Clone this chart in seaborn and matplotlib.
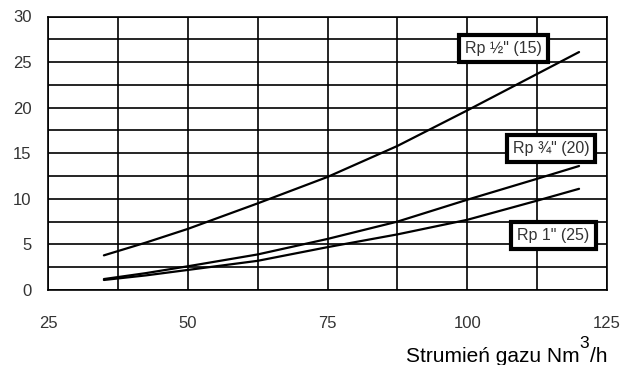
import matplotlib
matplotlib.use("Agg")
import matplotlib.pyplot as plt
from matplotlib.ticker import MultipleLocator
import seaborn as sns
import pandas as pd

# ---- data ----
flow = [35, 42.5, 50, 62.5, 75, 87.5, 100, 112.5, 120]
dp_half = [3.8, 5.2, 6.7, 9.5, 12.4, 15.8, 19.7, 23.7, 26.1]
dp_three_quarter = [1.2, 1.85, 2.6, 3.9, 5.6, 7.5, 9.9, 12.2, 13.6]
dp_one = [1.1, 1.6, 2.2, 3.2, 4.7, 6.1, 7.7, 9.8, 11.1]
series_names = ['Rp ½" (15)', 'Rp ¾" (20)', 'Rp 1" (25)']
label_x = [106.5, 115.0, 115.4]
label_y = [26.5, 15.5, 6.0]
x_ticks = [25, 50, 75, 100, 125]
y_ticks = [0, 5, 10, 15, 20, 25, 30]

rows = []
for name, vals in zip(series_names, [dp_half, dp_three_quarter, dp_one]):
    for q, v in zip(flow, vals):
        rows.append({"Q": q, "dp": v, "series": name})
df = pd.DataFrame(rows)

sns.set_style("white")
plt.rcParams['font.family'] = ['Liberation Sans', 'DejaVu Sans']

fig = plt.figure(figsize=(6.22, 3.65), dpi=100)
ax = fig.add_axes([48/622, 1-290/365, (607-48)/622, (290-16.5)/365])

sns.lineplot(data=df, x="Q", y="dp", hue="series", palette=["black"]*3,
             legend=False, lw=1.6, ax=ax, zorder=3)

ax.set_xlim(25, 125)
ax.set_ylim(0, 30)
ax.set_xticks(x_ticks)
ax.set_yticks(y_ticks)
ax.xaxis.set_minor_locator(MultipleLocator(12.5))
ax.yaxis.set_minor_locator(MultipleLocator(2.5))
ax.grid(which='both', color='black', lw=1.2)
ax.set_axisbelow(True)
for s in ax.spines.values():
    s.set_color('black')
    s.set_linewidth(1.2)
ax.tick_params(which='major', direction='out', length=6, width=1.2, color='black',
               labelsize=12, labelcolor='#333333')
ax.tick_params(axis='x', which='major', pad=13)
ax.tick_params(axis='y', which='major', pad=6)
ax.tick_params(which='minor', length=0)
ax.set_xlabel("")
ax.set_ylabel("")

for name, lx, ly in zip(series_names, label_x, label_y):
    ax.text(lx, ly, name, ha='center', va='center', fontsize=11.5, color='#333333',
            zorder=5,
            bbox=dict(boxstyle='square,pad=0.38', fc='white', ec='black', lw=3))

# x-axis label with a large superscript
fig.canvas.draw()
r = fig.canvas.get_renderer()
base_y = 1 - 362/365
t1 = fig.text(607/622, base_y, "/h", ha='right', va='baseline', fontsize=15, color='black')
bb1 = t1.get_window_extent(r)
t2 = fig.text(bb1.x0/622 - 0.001, 1 - 348/365, "3", ha='right', va='baseline', fontsize=12.5, color='black')
bb2 = t2.get_window_extent(r)
fig.text(bb2.x0/622 + 0.001, base_y, "Strumień gazu Nm", ha='right', va='baseline', fontsize=15, color='black')

fig.savefig("out.png", dpi=100)
